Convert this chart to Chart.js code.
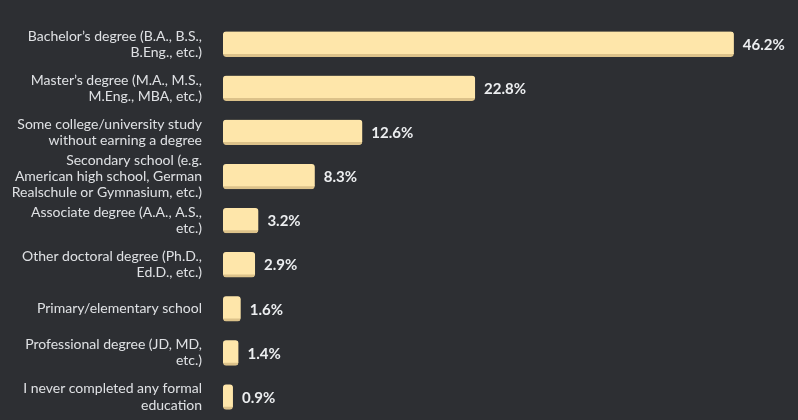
<!DOCTYPE html>
<html>
<head>
<meta charset="utf-8">
<script src="https://cdn.jsdelivr.net/npm/chart.js@4"></script>
<style>
  html, body { margin: 0; padding: 0; background: #2d2f33; }
  #wrap { width: 798px; height: 420px; position: relative; }
</style>
</head>
<body>
<div id="wrap"><canvas id="eduChart"></canvas></div>
<script>
const categories = [
  ["Bachelor’s degree (B.A., B.S.,", "B.Eng., etc.)"],
  ["Master’s degree (M.A., M.S.,", "M.Eng., MBA, etc.)"],
  ["Some college/university study", "without earning a degree"],
  ["Secondary school (e.g.", "American high school, German", "Realschule or Gymnasium, etc.)"],
  ["Associate degree (A.A., A.S.,", "etc.)"],
  ["Other doctoral degree (Ph.D.,", "Ed.D., etc.)"],
  "Primary/elementary school",
  ["Professional degree (JD, MD,", "etc.)"],
  ["I never completed any formal", "education"],
];
const percents = [46.2, 22.8, 12.6, 8.3, 3.2, 2.9, 1.6, 1.4, 0.9];

const valueLabels = {
  id: "valueLabels",
  afterDatasetsDraw(chart) {
    const ctx = chart.ctx;
    const meta = chart.getDatasetMeta(0);
    ctx.save();
    ctx.font = "bold 15px Lato, 'Open Sans', sans-serif";
    ctx.fillStyle = "#eceef0";
    ctx.textAlign = "left";
    ctx.textBaseline = "middle";
    meta.data.forEach((bar, i) => {
      ctx.fillText(percents[i].toFixed(1) + "%", bar.x + 9, bar.y + 1);
    });
    ctx.restore();
  },
};

new Chart(document.getElementById("eduChart"), {
  type: "bar",
  data: {
    labels: categories,
    datasets: [
      {
        data: percents,
        backgroundColor: "#fee6aa",
        borderColor: "#dcc28a",
        borderWidth: { top: 0, left: 0, right: 0, bottom: 3 },
        borderRadius: 3,
        borderSkipped: false,
        barThickness: 25,
      },
    ],
  },
  options: {
    indexAxis: "y",
    responsive: true,
    maintainAspectRatio: false,
    animation: false,
    layout: { padding: { top: 22, bottom: 1, left: 0, right: 0 } },
    plugins: {
      legend: { display: false },
      tooltip: { enabled: false },
    },
    scales: {
      x: {
        display: false,
        min: 0,
        max: 52,
      },
      y: {
        grid: { display: false, drawTicks: false },
        border: { display: false },
        afterFit: (axis) => {
          axis.width = 223;
          axis.paddingTop = 0;
          axis.paddingBottom = 0;
        },
        ticks: {
          autoSkip: false,
          padding: 21,
          color: "#dfe1e4",
          font: { family: "Lato, 'Open Sans', sans-serif", size: 14, lineHeight: 1.15 },
        },
      },
    },
  },
  plugins: [valueLabels],
});
</script>
</body>
</html>
